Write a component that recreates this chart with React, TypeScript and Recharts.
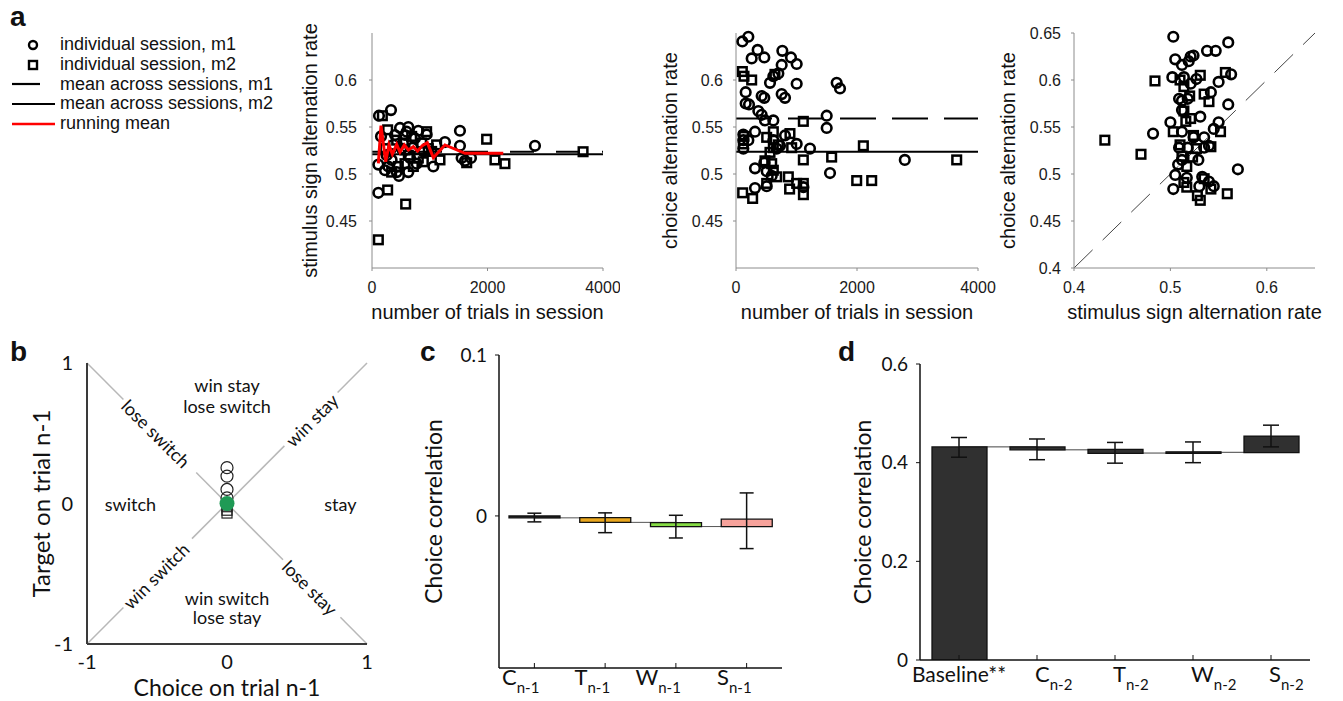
import React from 'react';
import {
  Bar,
  Cell,
  ComposedChart,
  ErrorBar,
  Label,
  Legend,
  Line,
  ReferenceLine,
  Scatter,
  ScatterChart,
  XAxis,
  YAxis,
} from 'recharts';

const HELV = '"Liberation Sans", Arial, sans-serif';
const MYRIAD = 'Lato, "Liberation Sans", sans-serif';
const INK = '#111';

// ---------- panel a : sessions ----------
// [trials in session, stimulus sign alternation rate]
const stimM1: [number, number][] = [
  [121, 0.562], [329, 0.568], [156, 0.54], [110, 0.51], [110, 0.48], [467, 0.498], [629, 0.55], [600, 0.545],
  [571, 0.5415], [802, 0.546], [946, 0.542], [1523, 0.546], [1523, 0.53], [1263, 0.534], [1062, 0.508],
  [2822, 0.53], [1552, 0.517], [1610, 0.514], [283, 0.508], [427, 0.502], [254, 0.52], [398, 0.5415],
  [369, 0.531], [514, 0.527], [658, 0.517], [773, 0.511], [889, 0.524], [629, 0.502], [225, 0.504],
  [744, 0.538], [485, 0.549], [1714, 0.517], [340, 0.515], [700, 0.528],
];
const stimM2: [number, number][] = [
  [179, 0.562], [271, 0.483], [583, 0.468], [110, 0.43], [1985, 0.537], [2129, 0.515], [2302, 0.511],
  [1177, 0.515], [271, 0.547], [427, 0.536], [542, 0.533], [687, 0.54], [860, 0.533], [946, 0.545],
  [975, 0.527], [802, 0.517], [571, 0.511], [340, 0.502], [456, 0.508], [716, 0.508], [225, 0.527],
  [1119, 0.531], [1033, 0.524], [3655, 0.5237], [571, 0.5256], [889, 0.513], [629, 0.52], [1640, 0.512],
];
const runningMean: [number, number][] = [
  [110, 0.5114], [156, 0.5515], [237, 0.5131], [294, 0.5309], [352, 0.521], [427, 0.5316], [485, 0.5231],
  [560, 0.5309], [629, 0.5256], [716, 0.5291], [790, 0.5245], [871, 0.5302], [958, 0.5334], [1062, 0.5174],
  [1263, 0.5309], [1610, 0.522], [2273, 0.522],
];
const stimMeanM1 = 0.5237;
const stimMeanM2 = 0.521;

// [trials in session, choice alternation rate]
const choiceM1: [number, number][] = [
  [204, 0.646], [105, 0.641], [358, 0.632], [259, 0.623], [468, 0.624], [766, 0.631], [909, 0.624],
  [1003, 0.617], [755, 0.616], [700, 0.607], [617, 0.604], [562, 0.597], [1003, 0.596], [1664, 0.597],
  [1719, 0.591], [160, 0.587], [424, 0.583], [468, 0.581], [755, 0.585], [810, 0.581], [160, 0.575],
  [215, 0.574], [369, 0.567], [424, 0.563], [479, 0.557], [1499, 0.562], [1499, 0.549], [314, 0.545],
  [121, 0.542], [121, 0.536], [204, 0.536], [121, 0.527], [617, 0.536], [810, 0.541], [1003, 0.532],
  [1223, 0.527], [672, 0.527], [727, 0.53], [468, 0.512], [314, 0.506], [507, 0.503], [590, 0.498],
  [1554, 0.501], [2790, 0.515], [314, 0.485], [507, 0.487], [1114, 0.486], [617, 0.557],
];
const choiceM2: [number, number][] = [
  [105, 0.609], [132, 0.604], [259, 0.6], [644, 0.606], [1113, 0.556], [121, 0.532], [507, 0.539],
  [617, 0.545], [892, 0.543], [920, 0.528], [617, 0.528], [562, 0.523], [1113, 0.515], [1581, 0.518],
  [2105, 0.53], [479, 0.514], [590, 0.511], [617, 0.504], [672, 0.497], [865, 0.497], [1003, 0.49],
  [1113, 0.49], [507, 0.49], [1995, 0.493], [2243, 0.493], [110, 0.48], [275, 0.474], [886, 0.484],
  [1114, 0.478], [3648, 0.515], [700, 0.531], [130, 0.54],
];
const choiceMeanM1 = 0.559;
const choiceMeanM2 = 0.5237;

// [stimulus sign alternation rate, choice alternation rate]
const pairM1: [number, number][] = [
  [0.503, 0.646], [0.56, 0.64], [0.538, 0.631], [0.547, 0.631], [0.505, 0.622], [0.512, 0.616], [0.521, 0.625],
  [0.524, 0.626], [0.502, 0.603], [0.514, 0.603], [0.521, 0.596], [0.55, 0.598], [0.563, 0.606], [0.509, 0.58],
  [0.518, 0.58], [0.542, 0.587], [0.56, 0.574], [0.512, 0.568], [0.5, 0.555], [0.531, 0.561], [0.482, 0.543],
  [0.512, 0.545], [0.55, 0.555], [0.545, 0.548], [0.535, 0.539], [0.524, 0.539], [0.509, 0.528], [0.518, 0.528],
  [0.535, 0.528], [0.512, 0.515], [0.529, 0.515], [0.505, 0.499], [0.517, 0.496], [0.533, 0.497], [0.503, 0.484],
  [0.53, 0.487], [0.54, 0.492], [0.545, 0.487], [0.57, 0.505], [0.519, 0.62], [0.527, 0.601], [0.512, 0.578],
  [0.508, 0.51], [0.54, 0.53],
];
const pairM2: [number, number][] = [
  [0.432, 0.536], [0.4695, 0.521], [0.484, 0.599], [0.503, 0.545], [0.531, 0.605], [0.557, 0.608], [0.54, 0.577],
  [0.535, 0.585], [0.514, 0.567], [0.523, 0.518], [0.531, 0.472], [0.559, 0.479], [0.517, 0.486], [0.542, 0.529],
  [0.51, 0.531], [0.512, 0.519], [0.517, 0.508], [0.514, 0.491], [0.524, 0.541], [0.521, 0.559], [0.51, 0.6],
  [0.514, 0.593], [0.528, 0.477], [0.542, 0.484], [0.516, 0.556], [0.552, 0.545], [0.527, 0.527], [0.52, 0.583],
  [0.535, 0.495],
];
const identity: [number, number] = [0.4, 0.65];

const trialTicks = [0, 2000, 4000];
const rateTicks = [0.45, 0.5, 0.55, 0.6];
const pairXTicks = [0.4, 0.5, 0.6];
const pairYTicks = [0.4, 0.45, 0.5, 0.55, 0.6, 0.65];

const legendLabels = [
  'individual session, m1',
  'individual session, m2',
  'mean across sessions, m1',
  'mean across sessions, m2',
  'running mean',
];
const legendKinds = ['ring', 'box', 'short', 'long', 'red'];

// ---------- panel b ----------
const bRings: [number, number][] = [[0, 0.255], [0, 0.195], [0, 0.1], [0, 0.04]];
const bBoxes: [number, number][] = [[0, -0.03], [0, -0.055], [0, -0.075]];
const bMean: [number, number][] = [[0, 0]];
const riseSpans: [number, number][] = [[-1, -0.74], [-0.25, 0.41], [0.79, 1]];
const fallSpans: [number, number][] = [[-1, -0.74], [-0.22, 0.4], [0.81, 1]];
const regionText = ['win stay', 'lose switch', 'switch', 'stay', 'win switch', 'lose stay', 'lose switch', 'win stay', 'win switch', 'lose stay'];
const regionX = [0, 0, -0.69, 0.81, 0, 0, -0.507, 0.605, -0.507, 0.593];
const regionY = [0.843, 0.693, 0, 0, -0.67, -0.81, 0.498, 0.593, -0.514, -0.598];
const regionAngle = [0, 0, 0, 0, 0, 0, 45, -45, -45, 45];
const unitTicks = [-1, 0, 1];

// ---------- panel c ----------
const cCats = ['C', 'T', 'W', 'S'];
const cLow = [-0.0012, -0.004, -0.0066, -0.0066];
const cHigh = [0, -0.001, -0.0042, -0.002];
const cErrLow = [-0.0037, -0.0104, -0.0137, -0.0203];
const cErrHigh = [0.0017, 0.0019, 0.0004, 0.0143];
const cLevels = [-0.0012, -0.004, -0.0066, -0.0066];
const cColors = ['#1a1a1a', '#e9a61d', '#86dc45', '#f6a29b'];

// ---------- panel d ----------
const dCats = ['Baseline**', 'C', 'T', 'W', 'S'];
const dLow = [0, 0.426, 0.419, 0.419, 0.4205];
const dHigh = [0.432, 0.432, 0.427, 0.422, 0.454];
const dErrLow = [0.411, 0.406, 0.399, 0.4, 0.432];
const dErrHigh = [0.451, 0.448, 0.441, 0.442, 0.476];
const dLevels = [0.432, 0.426, 0.4195, 0.421, 0.421];

const toXY = (pts: [number, number][]) => pts.map(([x, y]) => ({ x, y }));

const cRows = cCats.map((name, i) => ({
  name,
  range: [cLow[i], cHigh[i]],
  mid: (cErrLow[i] + cErrHigh[i]) / 2,
  err: (cErrHigh[i] - cErrLow[i]) / 2,
  level: cLevels[i],
}));
const dRows = dCats.map((name, i) => ({
  name,
  range: [dLow[i], dHigh[i]],
  mid: (dErrLow[i] + dErrHigh[i]) / 2,
  err: (dErrHigh[i] - dErrLow[i]) / 2,
  level: dLevels[i],
}));
const regions = regionText.map((text, i) => ({ x: regionX[i], y: regionY[i], text, angle: regionAngle[i] }));

const Ring = (p: any) => <circle cx={p.cx} cy={p.cy} r={4.8} fill="none" stroke="#000" strokeWidth={2.6} />;
const Box = (p: any) => (
  <rect x={p.cx - 4.3} y={p.cy - 4.3} width={8.6} height={8.6} fill="none" stroke="#000" strokeWidth={2.5} />
);
const NoDot = () => <g />;
const BRing = (p: any) => <circle cx={p.cx} cy={p.cy} r={6} fill="none" stroke="#222" strokeWidth={1.2} />;
const BBox = (p: any) => (
  <rect x={p.cx - 5} y={p.cy - 4} width={10} height={8} fill="none" stroke="#222" strokeWidth={1.2} />
);
const BMean = (p: any) => <circle cx={p.cx} cy={p.cy} r={7.5} fill="#1f9a55" />;
const RegionText = (p: any) => (
  <text
    x={p.cx}
    y={p.cy}
    textAnchor="middle"
    dominantBaseline="central"
    transform={`rotate(${p.payload.angle} ${p.cx} ${p.cy})`}
    fontFamily={MYRIAD}
    fontSize={18}
    fill={INK}
  >
    {p.payload.text}
  </text>
);

function xTitle(text: string, dy: number, size: number, font: string) {
  return (
    <Label
      content={(props: any) => {
        const vb = props.viewBox ?? { x: 0, y: 0, width: 0, height: 0 };
        return (
          <text x={vb.x + vb.width / 2} y={vb.y + dy} textAnchor="middle" dominantBaseline="central" fontFamily={font} fontSize={size} fill={INK}>
            {text}
          </text>
        );
      }}
    />
  );
}

function yTitle(text: string, dx: number, size: number, font: string) {
  return (
    <Label
      content={(props: any) => {
        const vb = props.viewBox ?? { x: 0, y: 0, width: 0, height: 0 };
        const cx = vb.x + dx;
        const cy = vb.y + vb.height / 2;
        return (
          <text x={cx} y={cy} transform={`rotate(-90 ${cx} ${cy})`} textAnchor="middle" dominantBaseline="central" fontFamily={font} fontSize={size} fill={INK}>
            {text}
          </text>
        );
      }}
    />
  );
}

function SubTick(props: any) {
  const { x, y, payload, sub, anchor, shift, lift } = props;
  const main = String(payload.value);
  const plain = main.startsWith('Baseline');
  return (
    <text x={x + (plain ? 0 : shift)} y={y + lift} textAnchor={plain ? 'middle' : anchor} fontFamily={MYRIAD} fontSize={plain ? 21 : 22} fill={INK}>
      {main}
      {plain ? null : (
        <tspan fontSize={15} dy={8}>
          {sub}
        </tspan>
      )}
    </text>
  );
}

function LegendBox() {
  return (
    <div style={{ fontFamily: HELV, fontSize: 18, color: INK }}>
      {legendLabels.map((label, i) => {
        const kind = legendKinds[i];
        return (
          <div key={label} style={{ display: 'flex', alignItems: 'center', height: 19.7, whiteSpace: 'nowrap' }}>
            <svg width={48} height={14} style={{ flex: 'none' }}>
              {kind === 'ring' && <circle cx={21} cy={7} r={4} fill="none" stroke="#000" strokeWidth={2.4} />}
              {kind === 'box' && <rect x={17} y={3} width={8} height={8} fill="none" stroke="#000" strokeWidth={2.4} />}
              {kind === 'short' && <line x1={0} x2={28} y1={7} y2={7} stroke="#000" strokeWidth={2.2} />}
              {kind === 'long' && <line x1={0} x2={43} y1={7} y2={7} stroke="#000" strokeWidth={2.2} />}
              {kind === 'red' && <line x1={0} x2={43} y1={7} y2={7} stroke="#f00" strokeWidth={2.5} />}
            </svg>
            <span>{label}</span>
          </div>
        );
      })}
    </div>
  );
}

const grayAxis = { stroke: '#8c8c8c', strokeWidth: 1 };
const aTick = { fill: '#1a1a1a', fontSize: 16, fontFamily: HELV };

function Letter({ ch, left, top }: { ch: string; left: number; top: number }) {
  return (
    <div style={{ position: 'absolute', left, top, fontFamily: HELV, fontWeight: 700, fontSize: 28, lineHeight: '28px', color: INK }}>
      {ch}
    </div>
  );
}

function Pos({ left, top, children }: { left: number; top: number; children: React.ReactNode }) {
  return <div style={{ position: 'absolute', left, top }}>{children}</div>;
}

export default function App() {
  return (
    <div style={{ position: 'absolute', left: 0, top: 0, width: 1343, height: 701, background: '#fff', overflow: 'hidden' }}>
      <Letter ch="a" left={10} top={3} />
      <Letter ch="b" left={10} top={338} />
      <Letter ch="c" left={420} top={338} />
      <Letter ch="d" left={838} top={338} />

      {/* a, left: stimulus alternation vs trials */}
      <Pos left={0} top={20}>
        <ScatterChart width={620} height={310} margin={{ top: 13, right: 17, bottom: 0, left: 290 }}>
          <XAxis type="number" dataKey="x" domain={[0, 4000]} ticks={trialTicks} height={62} axisLine={grayAxis} tickLine={grayAxis} tickSize={3} tickMargin={11} tick={aTick}>
            {xTitle('number of trials in session', 44, 20, HELV)}
          </XAxis>
          <YAxis type="number" dataKey="y" domain={[0.4, 0.65]} ticks={rateTicks} width={82} axisLine={grayAxis} tickLine={grayAxis} tickSize={3} tickMargin={12} tick={aTick}>
            {yTitle('stimulus sign alternation rate', 20, 20, HELV)}
          </YAxis>
          <Legend layout="vertical" align="center" verticalAlign="middle" wrapperStyle={{ left: 12, top: 15, width: 280, height: 100 }} content={() => <LegendBox />} />
          <Scatter data={toXY(stimM1)} shape={Ring} isAnimationActive={false} />
          <Scatter data={toXY(stimM2)} shape={Box} isAnimationActive={false} />
          <ReferenceLine y={stimMeanM2} stroke="#000" strokeWidth={2} />
          <ReferenceLine y={stimMeanM1} stroke="#000" strokeWidth={2} strokeDasharray="24 22" />
          <Scatter data={toXY(runningMean)} shape={NoDot} line={{ stroke: '#f00', strokeWidth: 3 }} isAnimationActive={false} />
        </ScatterChart>
      </Pos>

      {/* a, middle: choice alternation vs trials */}
      <Pos left={650} top={20}>
        <ScatterChart width={360} height={310} margin={{ top: 13, right: 32, bottom: 0, left: 0 }}>
          <XAxis type="number" dataKey="x" domain={[0, 4000]} ticks={trialTicks} height={62} axisLine={grayAxis} tickLine={grayAxis} tickSize={3} tickMargin={11} tick={aTick}>
            {xTitle('number of trials in session', 44, 20, HELV)}
          </XAxis>
          <YAxis type="number" dataKey="y" domain={[0.4, 0.65]} ticks={rateTicks} width={86} axisLine={grayAxis} tickLine={grayAxis} tickSize={3} tickMargin={10} tick={aTick}>
            {yTitle('choice alternation rate', 20, 20, HELV)}
          </YAxis>
          <Scatter data={toXY(choiceM1)} shape={Ring} isAnimationActive={false} />
          <Scatter data={toXY(choiceM2)} shape={Box} isAnimationActive={false} />
          <ReferenceLine y={choiceMeanM2} stroke="#000" strokeWidth={2} />
          <ReferenceLine y={choiceMeanM1} stroke="#000" strokeWidth={2} strokeDasharray="36 16" />
        </ScatterChart>
      </Pos>

      {/* a, right: choice vs stimulus alternation */}
      <Pos left={990} top={20}>
        <ScatterChart width={353} height={310} margin={{ top: 13, right: 28, bottom: 0, left: 0 }}>
          <XAxis type="number" dataKey="x" domain={[0.4, 0.65]} ticks={pairXTicks} height={62} axisLine={grayAxis} tickLine={grayAxis} tickSize={3} tickMargin={11} tick={aTick}>
            {xTitle('stimulus sign alternation rate', 44, 20, HELV)}
          </XAxis>
          <YAxis type="number" dataKey="y" domain={[0.4, 0.65]} ticks={pairYTicks} width={84} axisLine={grayAxis} tickLine={grayAxis} tickSize={3} tickMargin={10} tick={aTick}>
            {yTitle('choice alternation rate', 18, 20, HELV)}
          </YAxis>
          <ReferenceLine
            segment={[{ x: identity[0], y: identity[0] }, { x: identity[1], y: identity[1] }]}
            stroke="#444"
            strokeWidth={1}
            strokeDasharray="26 14"
          />
          <Scatter data={toXY(pairM1)} shape={Ring} isAnimationActive={false} />
          <Scatter data={toXY(pairM2)} shape={Box} isAnimationActive={false} />
        </ScatterChart>
      </Pos>

      {/* b */}
      <Pos left={0} top={330}>
        <ScatterChart width={390} height={371} margin={{ top: 33, right: 23, bottom: 0, left: 0 }}>
          <XAxis type="number" dataKey="x" domain={[-1, 1]} ticks={unitTicks} height={57} axisLine={{ stroke: '#3a3a3a', strokeWidth: 2 }} tickLine={false} tickSize={0} tickMargin={11} tick={{ fill: INK, fontSize: 20, fontFamily: MYRIAD }}>
            {xTitle('Choice on trial n-1', 43, 23, MYRIAD)}
          </XAxis>
          <YAxis type="number" dataKey="y" domain={[-1, 1]} ticks={unitTicks} width={87} axisLine={{ stroke: '#3a3a3a', strokeWidth: 2 }} tickLine={false} tickSize={0} tickMargin={14} tick={{ fill: INK, fontSize: 20, fontFamily: MYRIAD }}>
            {yTitle('Target on trial n-1', 40, 24, MYRIAD)}
          </YAxis>
          {riseSpans.map(([a, b]) => (
            <ReferenceLine key={`r${a}`} segment={[{ x: a, y: a }, { x: b, y: b }]} stroke="#b8b8b8" strokeWidth={1.5} />
          ))}
          {fallSpans.map(([a, b]) => (
            <ReferenceLine key={`f${a}`} segment={[{ x: a, y: -a }, { x: b, y: -b }]} stroke="#b8b8b8" strokeWidth={1.5} />
          ))}
          <Scatter data={regions} shape={RegionText} isAnimationActive={false} />
          <Scatter data={toXY(bRings)} shape={BRing} isAnimationActive={false} />
          <Scatter data={toXY(bBoxes)} shape={BBox} isAnimationActive={false} />
          <Scatter data={toXY(bMean)} shape={BMean} isAnimationActive={false} />
        </ScatterChart>
      </Pos>

      {/* c */}
      <Pos left={420} top={330}>
        <ComposedChart width={380} height={371} data={cRows} margin={{ top: 25, right: 18, bottom: 0, left: 0 }}>
          <XAxis dataKey="name" height={33} interval={0} axisLine={{ stroke: INK, strokeWidth: 1.5 }} tickLine={{ stroke: INK }} tickSize={-5} tickMargin={5} tick={<SubTick sub="n-1" anchor="end" shift={5} lift={17} />} />
          <YAxis type="number" domain={[-0.0945, 0.1]} ticks={[0, 0.1]} allowDataOverflow width={79} axisLine={{ stroke: INK, strokeWidth: 1.5 }} tickLine={{ stroke: INK }} tickSize={4} tickMargin={8} tick={{ fill: INK, fontSize: 19, fontFamily: MYRIAD }}>
            {yTitle('Choice correlation', 13, 23, MYRIAD)}
          </YAxis>
          <Line dataKey="level" type="stepAfter" stroke="#555" strokeWidth={1} dot={false} zIndex={250} isAnimationActive={false} />
          <Bar dataKey="range" barSize={51} stroke={INK} strokeWidth={1.3} isAnimationActive={false}>
            {cRows.map((r, i) => (
              <Cell key={r.name} fill={cColors[i]} />
            ))}
          </Bar>
          <Line dataKey="mid" stroke="none" dot={false} isAnimationActive={false}>
            <ErrorBar dataKey="err" width={7} stroke={INK} strokeWidth={1.5} direction="y" />
          </Line>
        </ComposedChart>
      </Pos>

      {/* d */}
      <Pos left={840} top={330}>
        <ComposedChart width={490} height={371} data={dRows} margin={{ top: 34, right: 20, bottom: 0, left: 0 }}>
          <XAxis dataKey="name" height={41} interval={0} axisLine={{ stroke: INK, strokeWidth: 1.5 }} tickLine={{ stroke: INK }} tickSize={-5} tickMargin={5} tick={<SubTick sub="n-2" anchor="start" shift={-2} lift={22} />} />
          <YAxis type="number" domain={[0, 0.6]} ticks={[0, 0.2, 0.4, 0.6]} allowDataOverflow width={80} axisLine={{ stroke: INK, strokeWidth: 1.5 }} tickLine={{ stroke: INK }} tickSize={4} tickMargin={8} tick={{ fill: INK, fontSize: 19, fontFamily: MYRIAD }}>
            {yTitle('Choice correlation', 22, 23, MYRIAD)}
          </YAxis>
          <Line dataKey="level" type="stepAfter" stroke="#444" strokeWidth={1} dot={false} zIndex={250} isAnimationActive={false} />
          <Bar dataKey="range" barSize={55} fill="#303030" stroke={INK} strokeWidth={1.3} isAnimationActive={false} />
          <Line dataKey="mid" stroke="none" dot={false} isAnimationActive={false}>
            <ErrorBar dataKey="err" width={8} stroke={INK} strokeWidth={1.5} direction="y" />
          </Line>
        </ComposedChart>
      </Pos>
    </div>
  );
}
